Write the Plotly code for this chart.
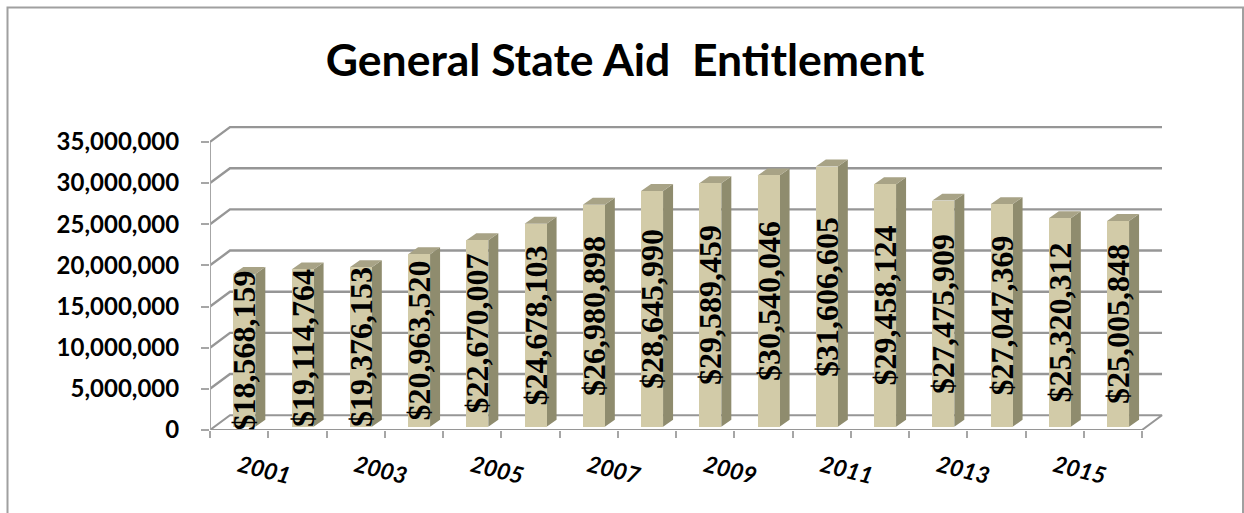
import numpy as np
import plotly.graph_objects as go

years = list(range(2001, 2017))
values = [18568159, 19114764, 19376153, 20963520, 22670007, 24678103, 26980898, 28645990,
          29589459, 30540046, 31606605, 29458124, 27475909, 27047369, 25320312, 25005848]
bar_labels = ["$18,568,159", "$19,114,764", "$19,376,153", "$20,963,520", "$22,670,007", "$24,678,103",
              "$26,980,898", "$28,645,990", "$29,589,459", "$30,540,046", "$31,606,605", "$29,458,124",
              "$27,475,909", "$27,047,369", "$25,320,312", "$25,005,848"]
y_ticks = [0, 5000000, 10000000, 15000000, 20000000, 25000000, 30000000, 35000000]
x_labels = [2001, 2003, 2005, 2007, 2009, 2011, 2013, 2015]
title = "General State Aid\u00a0\u00a0Entitlement"

W, H = 1244, 513
LEFT, BOTTOM, TOP, RIGHT = 210, 430.3, 120, 1165
PX_CAT = 58.25
PX_VAL = 8.24e-6
xr = [2000.5, 2000.5 + (RIGHT - LEFT) / PX_CAT]
yr = [0, (BOTTOM - TOP) / PX_VAL]
wall_dx, wall_dy = 20 / PX_CAT, 14.8 / PX_VAL
bar_w = 22 / PX_CAT
bar_off = 5.2 / PX_CAT
bar_base = 3.2 / PX_VAL
dep_x, dep_y = 10 / PX_CAT, 7 / PX_VAL
GRID = "#969696"
x0, x1 = 2000.5, 2016.5

fig = go.Figure()
# floor
fig.add_trace(go.Scatter(x=[x0, x1, x1 + wall_dx, x0 + wall_dx, x0], y=[0, 0, wall_dy, wall_dy, 0],
                         mode="lines", line=dict(color=GRID, width=2), hoverinfo="skip", showlegend=False))
# gridlines on the back wall, with their slanted returns
gx, gy = [], []
for v in y_ticks[1:]:
    gx += [x0, x0 + wall_dx, x1 + wall_dx, None]
    gy += [v, v + wall_dy, v + wall_dy, None]
fig.add_trace(go.Scatter(x=gx, y=gy, mode="lines", line=dict(color=GRID, width=2.4),
                         hoverinfo="skip", showlegend=False))
# front vertical axis
fig.add_trace(go.Scatter(x=[x0, x0], y=[0, y_ticks[-1]], mode="lines", line=dict(color="#a6a6a6", width=2),
                         hoverinfo="skip", showlegend=False))
# side and top faces
sx, sy, tx, ty = [], [], [], []
for yr_, v in zip(years, values):
    l = yr_ + bar_off - bar_w / 2
    r = yr_ + bar_off + bar_w / 2
    t = v + bar_base
    sx += [r, r + dep_x, r + dep_x, r, r, None]
    sy += [bar_base, bar_base + dep_y, t + dep_y, t, bar_base, None]
    tx += [l, r, r + dep_x, l + dep_x, l, None]
    ty += [t, t, t + dep_y, t + dep_y, t, None]
fig.add_trace(go.Scatter(x=sx, y=sy, mode="lines", fill="toself", fillcolor="#8f8c6e", line=dict(width=0),
                         hoverinfo="skip", showlegend=False))
fig.add_trace(go.Scatter(x=tx, y=ty, mode="lines", fill="toself", fillcolor="#a8a386", line=dict(width=0),
                         hoverinfo="skip", showlegend=False))
# front faces
fig.add_trace(go.Bar(x=[y + bar_off for y in years], y=values, base=bar_base, width=bar_w,
                     marker=dict(color="#d2cba8", line=dict(width=0)),
                     text=bar_labels, textposition="inside", insidetextanchor="middle", textangle=-90,
                     constraintext="none", cliponaxis=False,
                     textfont=dict(family="Liberation Serif", size=32, color="black", weight=700),
                     xaxis="x2", yaxis="y2", showlegend=False))

frame_x = [(7.5 - LEFT) / (RIGHT - LEFT), (1243 - LEFT) / (RIGHT - LEFT)]
frame_y = [(BOTTOM - 530) / (BOTTOM - TOP), (BOTTOM - 7.5) / (BOTTOM - TOP)]
fig.update_layout(
    width=W, height=H, margin=dict(l=LEFT, r=W - RIGHT, t=TOP, b=H - BOTTOM), autosize=False,
    paper_bgcolor="white", plot_bgcolor="rgba(0,0,0,0)", bargap=0, showlegend=False,
    title=dict(text=title, x=625 / W, xanchor="center", y=1 - 60 / H, yanchor="middle",
               font=dict(family="Lato", size=44.5, color="black", weight=700)),
    xaxis=dict(range=xr, tickmode="array", tickvals=[x0 + i for i in range(17)], ticktext=[""] * 17,
               ticks="outside", ticklen=7, tickwidth=2, tickcolor="#a6a6a6", showgrid=False,
               zeroline=False, showline=False),
    yaxis=dict(range=yr, tickmode="array", tickvals=y_ticks, ticktext=[f"{v:,}" for v in y_ticks],
               ticks="outside", ticklen=8, tickwidth=2, tickcolor="#a6a6a6", showgrid=False,
               zeroline=False, showline=False, ticklabelstandoff=17,
               tickfont=dict(family="Lato", size=24, color="black", weight=700)),
    xaxis2=dict(range=xr, overlaying="x", anchor="y2", side="bottom", tickmode="array",
                tickvals=x_labels, ticktext=[str(v) for v in x_labels], tickangle=14,
                ticks="outside", ticklen=13, tickcolor="rgba(0,0,0,0)", showgrid=False,
                zeroline=False, showline=False,
                tickfont=dict(family="Lato", size=23, color="black", weight=700, style="italic")),
    yaxis2=dict(range=yr, overlaying="y", anchor="x2", visible=False),
    shapes=[dict(type="rect", xref="paper", yref="paper", x0=frame_x[0], x1=frame_x[1],
                 y0=frame_y[0], y1=frame_y[1], line=dict(color="#a0a0a0", width=2), layer="below")],
)
fig.write_html("out.html", post_script="document.body.style.margin='0';",
               config=dict(displayModeBar=False))
